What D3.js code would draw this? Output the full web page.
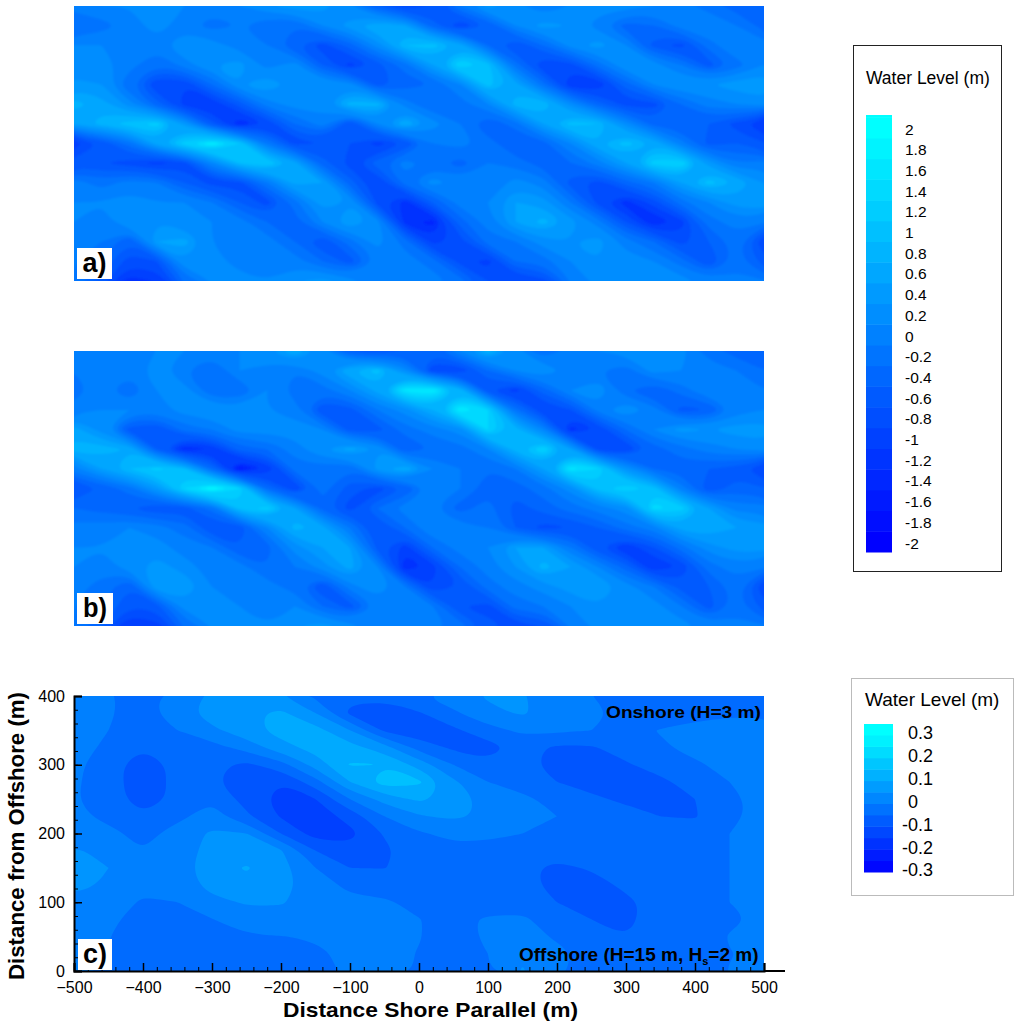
<!DOCTYPE html>
<html>
<head>
<meta charset="utf-8">
<script src="https://cdn.jsdelivr.net/npm/d3@7"></script>
<style>
  html, body { margin: 0; padding: 0; background: #fff; }
  text { font-family: "Liberation Sans", Arial, sans-serif; fill: #000; }
</style>
</head>
<body>
<svg id="chart" width="1024" height="1022"></svg>
<script>
// water level, rows top to bottom, 26 columns
const levelA = [
  [0.0,0.1,0.1,0.2,0.1,0.0,0.1,0.3,0.4,0.4,0.1,-0.5,-0.9,-0.7,-0.1,0.4,0.2,-0.1,0.1,0.2,0.2,0.1,0.0,-0.2,-0.4,-0.4],
  [-0.3,-0.2,0.0,0.2,0.0,-0.2,-0.1,-0.3,-0.3,0.1,0.4,0.7,0.5,-0.4,-0.9,-0.5,0.1,0.4,0.3,0.0,-0.4,-0.3,0.0,0.1,-0.1,-0.4],
  [0.1,0.1,-0.1,0.0,0.3,0.2,0.0,-0.1,-0.5,-0.8,-0.4,0.2,0.9,1.0,0.6,-0.3,-0.7,-0.3,0.2,0.4,0.1,-0.6,-0.8,-0.2,0.1,0.0],
  [0.1,0.2,0.0,-0.3,0.0,0.3,0.4,0.0,0.2,-0.5,-1.0,-0.6,-0.2,0.5,1.3,1.0,-0.2,-0.9,-0.8,-0.2,0.3,0.2,-0.1,-0.6,-0.2,0.1],
  [0.4,0.3,-0.3,-0.9,-0.9,-0.3,0.3,0.5,0.2,0.3,0.2,-0.6,-0.4,-0.3,0.1,1.0,0.6,-0.2,-1.1,-1.1,-0.4,0.1,0.3,0.3,0.4,0.5],
  [0.8,0.6,0.2,-0.4,-1.0,-1.1,-0.6,0.0,0.2,0.2,0.8,0.8,0.0,-0.3,-0.2,0.1,0.8,0.9,0.2,-0.4,-0.8,-0.8,-0.3,0.0,0.1,0.2],
  [0.5,0.8,1.0,1.2,0.4,-0.6,-1.3,-0.9,-0.3,0.0,-0.7,0.1,0.7,0.2,-0.1,-0.5,-0.2,0.5,1.0,0.9,0.2,-0.4,-0.5,-0.5,-0.8,-1.1],
  [-1.0,-0.7,-0.2,0.6,1.2,1.7,1.1,-0.1,-0.8,-0.7,-0.7,-1.0,-0.7,-0.1,0.0,-0.2,-0.5,-0.4,0.1,0.7,1.0,0.7,0.0,-0.6,-0.5,-0.7],
  [-0.6,-0.7,-0.8,-1.0,-0.8,0.1,0.9,1.1,0.6,-0.4,-0.8,-0.4,0.0,-0.2,-0.4,-0.1,-0.2,-0.4,-0.3,0.0,0.5,1.2,1.3,0.4,-0.1,0.0],
  [0.0,-0.2,0.0,-0.1,-0.5,-0.8,-0.8,-0.1,0.6,0.5,-0.4,-0.9,-0.2,0.2,0.0,-0.1,0.2,0.0,-0.6,-0.8,-0.4,-0.1,0.5,1.0,0.7,0.3],
  [0.1,0.1,0.2,0.1,0.1,-0.1,-0.5,-0.8,-0.2,0.4,0.3,-0.8,-1.2,-0.5,0.0,0.1,0.5,0.4,-0.1,-0.8,-1.2,-0.8,-0.2,0.1,0.4,0.5],
  [0.1,0.0,0.3,0.3,0.1,0.1,0.0,-0.3,-0.4,0.1,0.5,0.2,-1.2,-1.4,-0.4,0.0,0.5,0.8,0.4,0.0,-0.7,-1.3,-1.0,-0.2,0.0,-0.1],
  [0.0,-0.1,-0.5,0.5,0.6,0.1,0.0,0.0,-0.3,-0.7,-0.2,0.2,-0.2,-1.0,-0.8,-0.2,-0.1,0.2,0.3,0.4,0.0,-0.3,-0.8,-0.5,-0.2,-0.9],
  [-0.1,-0.3,-0.8,-0.7,0.3,0.2,0.0,0.0,0.0,-0.3,-0.6,-0.1,0.0,-0.2,-0.8,-1.0,-0.3,-0.2,0.1,0.3,0.2,0.1,-0.2,-0.7,-0.2,-0.6],
  [-0.1,-0.6,-1.2,-1.1,-0.3,0.1,0.2,0.1,0.3,0.4,0.2,-0.1,-0.1,0.0,-0.2,-0.7,-0.9,-0.8,-0.1,0.2,0.2,0.3,0.2,0.0,0.0,-0.1]
];

const levelB = [
  [0.0,0.1,0.0,0.1,0.1,0.0,0.1,0.3,0.7,0.2,-0.5,-0.7,-0.5,-0.4,0.1,0.8,0.2,-0.3,0.0,0.1,0.2,0.3,0.2,-0.2,-0.4,-0.4],
  [-0.1,0.0,0.0,0.2,-0.1,-0.3,0.1,0.0,-0.1,0.2,0.7,1.0,0.2,-0.9,-0.9,-0.3,0.1,0.3,0.0,-0.1,-0.2,0.2,0.1,0.0,-0.1,-0.3],
  [-0.2,0.0,-0.3,0.1,0.2,-0.3,-0.3,0.1,-0.2,-0.2,0.1,0.6,1.6,1.7,0.8,-0.7,-1.0,-0.4,0.1,0.3,-0.3,-0.5,-0.2,0.1,0.0,-0.1],
  [0.0,0.1,0.1,0.0,0.2,0.3,0.2,0.1,0.0,-0.7,-0.6,-0.1,0.2,0.7,1.7,1.3,-0.2,-0.9,-0.7,0.0,0.3,0.0,-0.6,-0.5,0.0,0.1],
  [0.6,0.2,-0.6,-0.7,-0.2,-0.1,0.2,0.2,0.2,0.1,-0.6,-0.6,-0.2,0.0,0.2,1.3,0.8,0.1,-1.2,-0.9,-0.3,0.1,0.4,0.3,0.4,0.4],
  [0.8,0.8,0.7,-0.5,-1.3,-1.1,-0.4,-0.3,0.0,0.3,0.6,0.3,-0.5,-0.3,-0.2,0.1,0.8,1.3,0.5,-0.8,-0.9,-0.4,-0.2,0.0,0.1,0.2],
  [0.0,0.5,0.9,1.2,0.9,-0.3,-1.6,-1.1,-0.2,-0.2,-0.3,0.4,0.7,0.1,-0.1,-0.3,-0.1,0.5,1.6,1.3,0.3,-0.3,-0.4,-0.5,-0.6,-0.9],
  [-0.7,-0.5,-0.2,0.4,1.3,1.9,1.3,-0.3,-0.9,-0.2,-0.6,-0.8,-0.5,0.0,-0.1,-0.4,-0.4,-0.2,0.2,1.0,1.3,1.0,0.0,-0.7,-0.4,-0.5],
  [-0.3,-0.4,-0.5,-0.7,-0.6,-0.2,1.0,1.2,0.5,-0.4,-0.8,-0.3,0.0,-0.1,-0.4,-0.2,-0.6,-0.4,-0.2,0.0,0.2,1.4,1.2,0.5,0.0,0.0],
  [0.0,0.0,0.1,0.0,-0.2,-0.7,-0.7,0.1,0.8,0.6,-0.1,-0.7,-0.3,0.1,0.0,-0.1,-0.5,-0.8,-0.7,-0.5,-0.2,0.0,0.6,0.7,0.5,0.4],
  [0.1,0.1,0.1,0.2,0.0,-0.1,-0.5,-0.4,0.2,0.5,0.5,-0.6,-1.0,-0.3,0.0,0.1,0.5,0.5,-0.1,-0.7,-1.1,-0.7,-0.2,0.2,0.4,0.4],
  [0.1,0.0,0.2,0.4,0.2,0.0,0.0,-0.3,-0.1,0.2,0.6,0.1,-1.3,-1.0,-0.3,0.0,0.3,0.8,0.5,0.1,-0.4,-1.1,-0.9,-0.2,0.0,-0.1],
  [0.0,-0.2,-0.5,0.5,0.5,0.1,0.0,0.0,-0.2,-0.7,0.0,0.3,-0.1,-0.9,-0.7,-0.2,0.0,0.2,0.4,0.5,0.2,-0.1,-0.6,-0.5,-0.2,-0.9],
  [-0.1,-0.2,-0.7,-0.6,0.2,0.2,0.1,0.0,0.1,-0.3,-0.6,-0.1,0.1,-0.1,-0.7,-0.8,-0.2,-0.1,0.1,0.3,0.3,0.2,-0.1,-0.6,-0.2,-0.6],
  [-0.1,-0.5,-1.1,-1.0,-0.3,0.1,0.1,0.1,0.3,0.4,0.2,-0.1,0.0,0.0,-0.2,-0.6,-0.8,-0.7,-0.1,0.2,0.2,0.3,0.2,0.0,0.0,-0.1]
];

// time averaged level, rows from y=400 down to y=0 every 25 m, columns every 50 m
const levelC = [
  [0.01,0.005,-0.02,0.02,0.06,0.08,0.055,-0.01,-0.04,-0.04,-0.005,0.03,0.055,0.055,0.02,0.0,-0.02,-0.02,-0.015,-0.01,-0.01],
  [0.015,0.005,-0.02,0.03,0.07,0.09,0.11,0.05,-0.06,-0.07,-0.055,-0.01,0.04,0.055,0.03,0.01,-0.01,-0.02,-0.01,-0.005,-0.005],
  [0.02,0.0,-0.03,0.0,0.04,0.08,0.12,0.12,0.05,-0.06,-0.08,-0.06,-0.02,0.01,0.01,0.0,-0.01,0.002,0.01,0.015,0.02],
  [0.02,-0.01,-0.048,-0.03,-0.02,0.02,0.08,0.12,0.12,0.07,-0.02,-0.06,-0.07,-0.03,-0.06,-0.055,-0.03,-0.005,0.01,0.02,0.02],
  [0.015,-0.035,-0.07,-0.04,-0.04,-0.06,-0.02,0.07,0.155,0.15,0.08,0.0,-0.04,-0.035,-0.07,-0.07,-0.055,-0.03,-0.005,0.01,0.02],
  [0.01,-0.035,-0.07,-0.04,-0.045,-0.07,-0.10,-0.02,0.10,0.18,0.16,0.06,0.0,-0.02,-0.05,-0.07,-0.07,-0.06,-0.03,0.0,0.02],
  [0.005,-0.03,-0.07,-0.04,-0.005,-0.07,-0.12,-0.10,0.0,0.07,0.11,0.08,0.03,0.01,-0.015,-0.04,-0.06,-0.065,-0.05,-0.01,0.015],
  [0.01,-0.01,-0.045,-0.01,0.02,-0.04,-0.105,-0.13,-0.08,0.0,0.045,0.06,0.04,0.03,0.0,-0.02,-0.03,-0.05,-0.055,-0.01,0.015],
  [0.015,0.01,-0.012,0.015,0.06,0.05,-0.05,-0.125,-0.115,-0.045,-0.005,0.01,0.01,0.0,-0.01,-0.02,-0.025,-0.025,-0.025,0.0,0.02],
  [0.055,0.04,0.0,0.02,0.07,0.075,0.055,-0.05,-0.085,-0.06,-0.02,-0.01,-0.015,-0.025,-0.03,-0.03,-0.03,-0.025,-0.02,0.0,0.015],
  [0.06,0.05,0.01,0.025,0.08,0.105,0.07,0.0,-0.05,-0.052,-0.025,-0.03,-0.04,-0.04,-0.06,-0.045,-0.03,-0.025,-0.01,0.0,0.02],
  [0.06,0.045,0.01,0.015,0.07,0.085,0.07,0.02,-0.01,-0.015,-0.02,-0.02,-0.025,-0.035,-0.065,-0.07,-0.04,-0.025,-0.005,0.0,0.05],
  [0.04,0.02,-0.005,0.0,0.035,0.055,0.055,0.025,0.01,0.005,-0.01,-0.015,-0.02,-0.025,-0.05,-0.07,-0.06,-0.03,-0.005,0.0,0.01],
  [0.03,0.01,-0.02,-0.012,-0.002,0.03,0.03,0.015,0.01,0.005,0.001,-0.01,0.005,0.01,-0.03,-0.05,-0.06,-0.03,-0.015,-0.005,0.005],
  [0.02,0.002,-0.03,-0.025,-0.015,-0.006,-0.001,0.003,0.008,0.006,0.001,-0.01,0.004,0.015,-0.005,-0.035,-0.05,-0.03,-0.02,0.002,0.005],
  [0.015,-0.002,-0.03,-0.03,-0.025,-0.02,-0.012,-0.005,0.006,0.006,-0.001,-0.01,0.0,0.04,0.01,-0.015,-0.025,-0.025,-0.018,-0.001,0.005],
  [0.01,-0.005,-0.03,-0.03,-0.025,-0.022,-0.012,-0.006,0.004,0.005,-0.001,-0.01,-0.005,0.055,0.005,-0.012,-0.02,-0.02,-0.015,0.001,0.005]
];

const xTicks = [-500,-400,-300,-200,-100,0,100,200,300,400,500];
const yTicks = [0,100,200,300,400];
const legendTicksLarge = [2,1.8,1.6,1.4,1.2,1,0.8,0.6,0.4,0.2,0,-0.2,-0.4,-0.6,-0.8,-1,-1.2,-1.4,-1.6,-1.8,-2];
const legendTicksSmall = [0.3,0.2,0.1,0,-0.1,-0.2,-0.3];

const svg = d3.select('#chart');
const plotLeft = 74, plotRight = 764;

const colorLarge = d3.scaleLinear().domain([-2, 0, 2]).range(['#0000ff', '#0080ff', '#00ffff']).clamp(true);
const colorSmall = d3.scaleLinear().domain([-0.3, 0, 0.3]).range(['#0000ff', '#0080ff', '#00ffff']).clamp(true);

const ringLine = d3.line().curve(d3.curveBasisClosed);

// filled contours for one panel
function drawField(id, rows, top, bottom, thresholds, offset, color, blur) {
  const ny = rows.length, nx = rows[0].length;
  const gx = d3.scaleLinear().domain([0.5, nx - 0.5]).range([plotLeft, plotRight]);
  const gy = d3.scaleLinear().domain([0.5, ny - 0.5]).range([top, bottom]);

  svg.append('clipPath').attr('id', 'clip-' + id)
    .append('rect')
    .attr('x', plotLeft).attr('y', top)
    .attr('width', plotRight - plotLeft).attr('height', bottom - top);

  const contours = d3.contours().size([nx, ny]).thresholds(thresholds)(rows.flat());
  const g = svg.append('g').attr('clip-path', 'url(#clip-' + id + ')')
    .append('g').attr('filter', blur ? 'url(#soft)' : null);

  g.selectAll('path').data(contours).join('path')
    .attr('fill', d => color(d.value + offset))
    .attr('fill-rule', 'evenodd')
    .attr('d', d => d.coordinates.map(poly => poly.map(ring =>
      ringLine(ring.slice(0, -1).map(p => [gx(p[0]), gy(p[1])]))
    ).join('')).join(''));
}

svg.append('defs').append('filter').attr('id', 'soft')
  .attr('x', '-5%').attr('y', '-5%').attr('width', '110%').attr('height', '110%')
  .append('feGaussianBlur').attr('stdDeviation', 1.2);

const thresholdsLarge = d3.range(-30, 30, 2).map(d => d / 10 - 0.1);
const thresholdsSmall = d3.range(-8, 8).map(d => d * 0.05);

drawField('a', levelA, 6, 281, thresholdsLarge, 0.1, colorLarge, true);
drawField('b', levelB, 351, 626, thresholdsLarge, 0.1, colorLarge, true);
drawField('c', levelC, 696, 971, thresholdsSmall, 0, colorSmall, false);

// axes of panel c
const x = d3.scaleLinear().domain([-500, 500]).range([plotLeft, plotRight]);
const y = d3.scaleLinear().domain([0, 400]).range([971, 696]);

const xAxis = svg.append('g').attr('transform', 'translate(0,971)')
  .call(d3.axisBottom(x).tickValues(xTicks).tickSize(-8).tickPadding(11).tickFormat(d3.format('d')));
const xMinor = svg.append('g').attr('transform', 'translate(0,971)')
  .call(d3.axisBottom(x).tickValues(d3.range(-500, 501, 20)).tickSize(-4).tickFormat(''));
const yAxis = svg.append('g').attr('transform', 'translate(74,0)')
  .call(d3.axisLeft(y).tickValues(yTicks).tickSize(-8).tickPadding(9).tickFormat(d3.format('d')));
const yMinor = svg.append('g').attr('transform', 'translate(74,0)')
  .call(d3.axisLeft(y).tickValues(d3.range(0, 401, 20)).tickSize(-4).tickFormat(''));

[xAxis, yAxis].forEach(a => {
  a.selectAll('text').attr('font-size', 16).attr('font-family', '"Liberation Sans", Arial, sans-serif').attr('fill', '#000');
  a.selectAll('line').attr('stroke', '#000').attr('stroke-width', 1.5);
  a.select('.domain').attr('stroke', '#000').attr('stroke-width', 2);
});
[xMinor, yMinor].forEach(a => {
  a.selectAll('line').attr('stroke', '#000').attr('stroke-width', 1);
  a.select('.domain').remove();
});
// x axis line runs on past the plot
svg.append('line').attr('x1', x(500)).attr('x2', x(500) + 21).attr('y1', 971).attr('y2', 971)
  .attr('stroke', '#000').attr('stroke-width', 2);

svg.append('text').attr('x', 430.5).attr('y', 1017).attr('text-anchor', 'middle')
  .attr('font-size', 21).attr('font-weight', 'bold')
  .attr('textLength', 295).attr('lengthAdjust', 'spacingAndGlyphs')
  .text('Distance Shore Parallel (m)');
svg.append('text').attr('transform', 'translate(24,836) rotate(-90)').attr('text-anchor', 'middle')
  .attr('font-size', 22).attr('font-weight', 'bold')
  .attr('textLength', 288).attr('lengthAdjust', 'spacingAndGlyphs')
  .text('Distance from Offshore (m)');

// notes inside panel c
svg.append('text').attr('x', 761).attr('y', 718).attr('text-anchor', 'end')
  .attr('font-size', 17).attr('font-weight', 'bold')
  .attr('textLength', 155).attr('lengthAdjust', 'spacingAndGlyphs')
  .text('Onshore (H=3 m)');
const offshore = svg.append('text').attr('x', 519).attr('y', 961)
  .attr('font-size', 19).attr('font-weight', 'bold');
offshore.append('tspan').text('Offshore (H=15 m, H');
offshore.append('tspan').attr('font-size', 11).attr('dy', 4).text('s');
offshore.append('tspan').attr('dy', -4).text('=2 m)');

// panel letters
[['a)', 77, 248, 35], ['b)', 77, 593, 36], ['c)', 78, 939, 34]].forEach(([label, lx, ly, lw]) => {
  svg.append('rect').attr('x', lx).attr('y', ly).attr('width', lw).attr('height', 31).attr('fill', '#fff');
  svg.append('text').attr('x', lx + lw / 2).attr('y', ly + 24).attr('text-anchor', 'middle')
    .attr('font-size', 28).attr('font-weight', 'bold')
    .attr('textLength', 24).attr('lengthAdjust', 'spacingAndGlyphs').text(label);
});

// legends
function drawLegend(o) {
  svg.append('rect').attr('x', o.left).attr('y', o.top).attr('width', o.width).attr('height', o.height)
    .attr('fill', '#fff').attr('stroke', o.border).attr('stroke-width', 1);
  svg.append('text').attr('x', o.titleX).attr('y', o.titleY).attr('font-size', o.titleSize).text('Water Level (m)');

  const ly = d3.scaleLinear().domain([o.ticks[0], o.ticks[o.ticks.length - 1]]).range([o.tickTop, o.tickBottom]);
  const top = o.barTop, bottom = o.barBottom;
  const vTop = ly.invert(top), vBottom = ly.invert(bottom);
  const bands = d3.range(Math.ceil((vTop - vBottom) / o.step));
  svg.selectAll(null).data(bands).join('rect')
    .attr('x', o.barX).attr('width', o.barW)
    .attr('y', i => Math.max(top, ly(vBottom + (i + 1) * o.step)))
    .attr('height', i => ly(vBottom + i * o.step) - Math.max(top, ly(vBottom + (i + 1) * o.step)) + 0.5)
    .attr('fill', i => o.color(vBottom + (i + 0.5) * o.step));
  svg.selectAll(null).data(o.ticks).join('text')
    .attr('x', d => o.labelX(d)).attr('y', d => ly(d)).attr('dy', '0.36em')
    .attr('font-size', o.labelSize).attr('fill', '#111').text(d => d);
}

drawLegend({
  left: 853.5, top: 45.5, width: 148, height: 526, border: '#222',
  titleX: 866, titleY: 84, titleSize: 17.5,
  barX: 866, barW: 26, barTop: 115, barBottom: 552,
  tickTop: 129, tickBottom: 543, ticks: legendTicksLarge, step: 0.2, color: colorLarge,
  labelX: () => 905, labelSize: 15.5
});
drawLegend({
  left: 851.5, top: 678.5, width: 162, height: 217, border: '#bbb',
  titleX: 865, titleY: 706, titleSize: 19,
  barX: 864, barW: 29, barTop: 724, barBottom: 872,
  tickTop: 733, tickBottom: 870, ticks: legendTicksSmall, step: 0.05, color: colorSmall,
  labelX: d => d < 0 ? 902 : 908, labelSize: 18
});
</script>
</body>
</html>
